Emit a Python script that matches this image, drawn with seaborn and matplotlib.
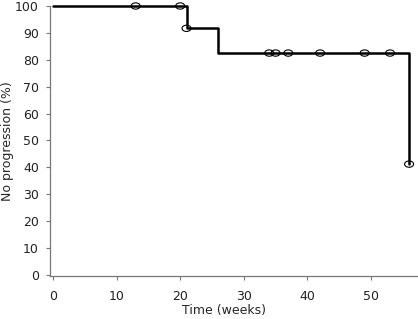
import numpy as np
import pandas as pd
import seaborn as sns
from matplotlib import pyplot as plt
from matplotlib.path import Path

# Kaplan-Meier step values
step_weeks = [0, 21, 26, 56]
step_pct = [100, 91.7, 82.5, 41.2]

# Censored observations
censor_weeks = [13, 20, 21, 34, 35, 37, 42, 49, 53, 56]
censor_pct = [100, 100, 91.7, 82.5, 82.5, 82.5, 82.5, 82.5, 82.5, 41.2]

x_ticks = [0, 10, 20, 30, 40, 50]
y_ticks = list(range(0, 101, 10))

sns.set_style("ticks")
plt.rcParams["font.family"] = ["DejaVu Sans"]

steps = pd.DataFrame({"week": step_weeks, "pct": step_pct})
censors = pd.DataFrame({"week": censor_weeks, "pct": censor_pct})

# Flattened circle, like the original censor marks
circle = Path.unit_circle()
ellipse = Path(circle.vertices * np.array([1.0, 0.7]), circle.codes)

fig = plt.figure(figsize=(4.18, 3.19), dpi=100)
ax = fig.add_axes([50 / 418, 1 - 276 / 319, 368 / 418, 270 / 319])

sns.lineplot(data=steps, x="week", y="pct", ax=ax, color="black", linewidth=1.8,
             drawstyle="steps-post", sort=False, clip_on=False, zorder=3)
sns.scatterplot(data=censors, x="week", y="pct", ax=ax, marker=ellipse, s=42,
                facecolors="none", edgecolor="black", linewidth=0.8,
                clip_on=False, zorder=4)

ax.set_xlim(-0.47, 57.4)
ax.set_ylim(-0.4, 100)
ax.set_xticks(x_ticks)
ax.set_yticks(y_ticks)
ax.set_xlabel("Time (weeks)", fontsize=9)
ax.set_ylabel("No progression (%)", fontsize=9)
ax.xaxis.set_label_coords(0.473, -0.102)
ax.yaxis.set_label_coords(-0.098, 0.5)
ax.tick_params(labelsize=9, length=3, width=0.8, color="#777777",
               labelcolor="#222222")
ax.tick_params(axis="x", pad=7)
ax.tick_params(axis="y", pad=5)

for side in ["left", "bottom"]:
    ax.spines[side].set_color("#777777")
    ax.spines[side].set_linewidth(0.9)
sns.despine(ax=ax)

fig.savefig("out.png", dpi=100)
